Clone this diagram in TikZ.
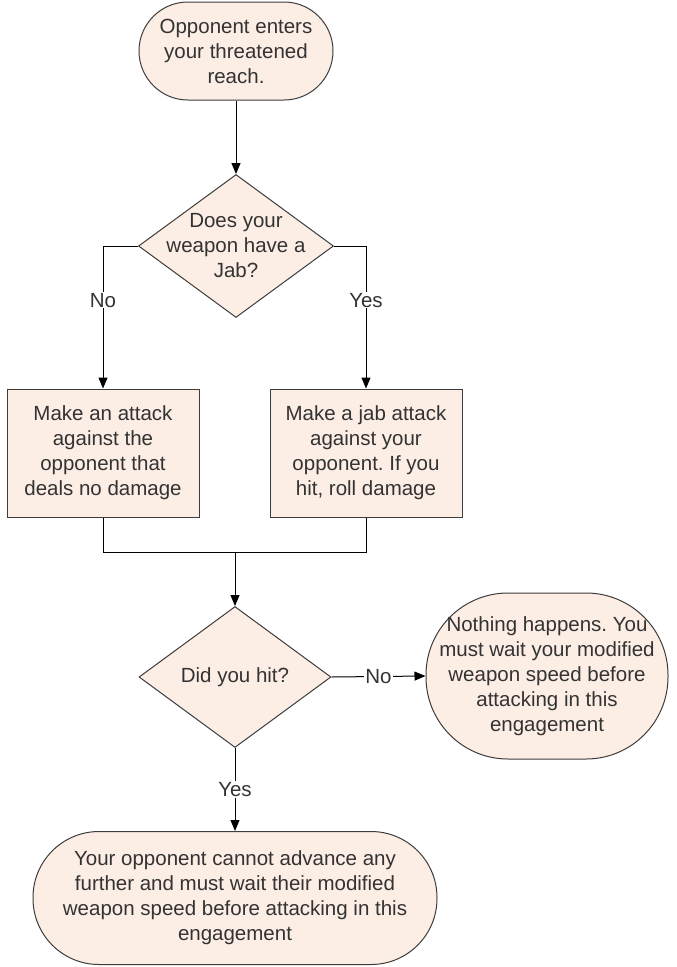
\documentclass[tikz,border=0pt]{standalone}
\usepackage{fontspec}
\setmainfont{Liberation Sans}
\usetikzlibrary{shapes.geometric,arrows.meta}
\definecolor{peach}{HTML}{FDEEE5}
\definecolor{edge}{HTML}{3C3C3C}
\definecolor{ink}{HTML}{333333}
\tikzset{
  base/.style={draw=edge, fill=peach, line width=1pt, inner sep=0pt, text=ink, align=center,
    font=\fontsize{20.5}{25}\selectfont},
  oval/.style={base, rectangle, rounded corners=#1},
  box/.style={base, rectangle, minimum width=192pt, minimum height=128pt},
  decision/.style={base, diamond, text=ink},
  txt/.style={text=ink, align=center, inner sep=0pt, font=\fontsize{20.5}{25}\selectfont},
  lbl/.style={fill=white, text=ink, inner sep=1pt, font=\fontsize{20.5}{25}\selectfont},
  line/.style={draw=black, line width=1pt},
  arrow/.style={line, -{Triangle[length=11pt,width=9pt]}}
}
\begin{document}
\frenchspacing
\begin{tikzpicture}[x=1pt,y=-1pt]
\useasboundingbox (0,0) rectangle (677,967);
% nodes
\node[oval=49pt, minimum width=194pt, minimum height=98pt] (start) at (236,51)
  {Opponent enters\\your threatened\\reach.};
\node[decision, minimum width=195pt, minimum height=143pt] (d1) at (236,246) {};
\node[txt] (d1t) at (d1.center) {Does your\\weapon have a\\Jab?};
\node[box] (left) at (103,453) {Make an attack\\against the\\opponent that\\deals no damage};
\node[box] (right) at (366,453) {Make a jab attack\\against your\\opponent. If you\\hit, roll damage};
\coordinate (jl) at (103,552);
\coordinate (jr) at (366,552);
\node[decision, minimum width=192pt, minimum height=141pt] (d2) at (235,677) {};
\node[txt] (d2t) at (d2.center) {Did you hit?};
\coordinate (j) at (d2.north |- jl);
\node[oval=82pt, minimum width=242pt, minimum height=166pt] (miss) at (547,676)
  {Nothing happens. You\\must wait your modified\\weapon speed before\\attacking in this\\engagement};
\node[oval=66pt, minimum width=404pt, minimum height=133pt] (hit) at (235,898)
  {Your opponent cannot advance any\\further and must wait their modified\\weapon speed before attacking in this\\engagement};
% connectors
\draw[arrow] (start.south) -- (d1.north);
\draw[arrow] (d1.west) -| node[lbl, pos=0.69] {No} (left.north);
\draw[arrow] (d1.east) -| node[lbl, pos=0.69] {Yes} (right.north);
\draw[line] (left.south) -- (jl) -- (jr) -- (right.south);
\draw[arrow] (j) -- (d2.north);
\draw[arrow] (d2.east) -- node[lbl] {No} (miss.west);
\draw[arrow] (d2.south) -- node[lbl, pos=0.5] {Yes} (hit.north);
\end{tikzpicture}
\end{document}
